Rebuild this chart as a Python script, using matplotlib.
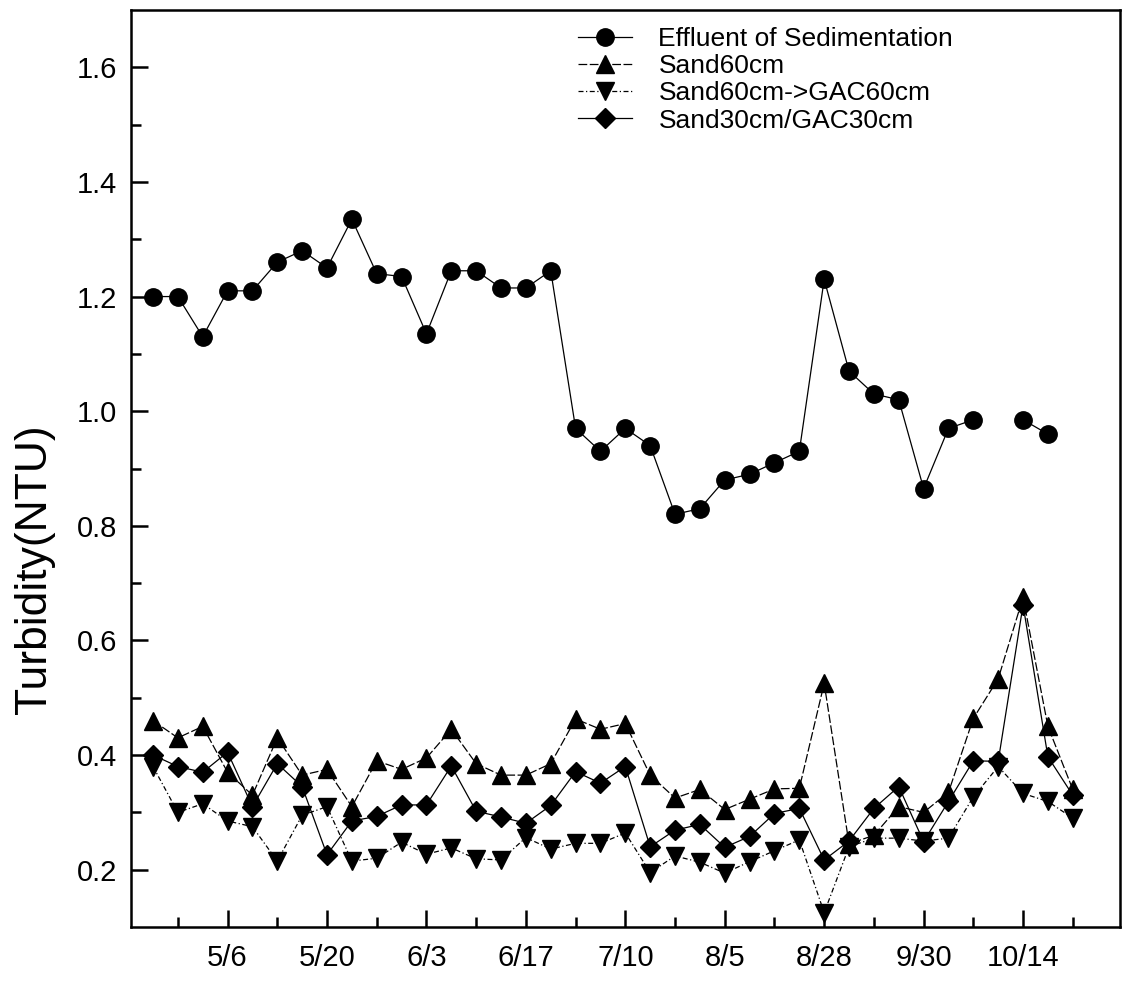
import matplotlib
matplotlib.use("Agg")
import matplotlib.pyplot as plt
import numpy as np

plt.rcParams['font.family'] = ['Liberation Sans', 'DejaVu Sans']

# sampling index (two samples per minor tick)
tick_labels = ['5/6', '5/20', '6/3', '6/17', '7/10', '8/5', '8/28', '9/30', '10/14']
major_pos = [3, 7, 11, 15, 19, 23, 27, 31, 35]
minor_pos = [1, 5, 9, 13, 17, 21, 25, 29, 33, 37]

effluent = [1.20, 1.20, 1.13, 1.21, 1.21, 1.26, 1.28, 1.25, 1.335, 1.24,
            1.235, 1.135, 1.245, 1.245, 1.215, 1.215, 1.245, 0.97, 0.93, 0.97,
            0.94, 0.82, 0.83, 0.88, 0.89, 0.91, 0.93, 1.23, 1.07, 1.03,
            1.02, 0.865, 0.97, 0.985, np.nan, 0.985, 0.96]
sand60 = [0.46, 0.43, 0.45, 0.37, 0.33, 0.43, 0.365, 0.375, 0.31, 0.39,
          0.375, 0.395, 0.445, 0.385, 0.365, 0.365, 0.385, 0.463, 0.445, 0.455,
          0.365, 0.325, 0.34, 0.305, 0.323, 0.341, 0.342, 0.525, 0.245, 0.26,
          0.31, 0.30, 0.335, 0.464, 0.533, 0.675, 0.45, 0.34]
sand_gac = [0.38, 0.30, 0.315, 0.285, 0.275, 0.215, 0.295, 0.31, 0.215, 0.22,
            0.248, 0.227, 0.238, 0.219, 0.217, 0.256, 0.236, 0.246, 0.246, 0.264,
            0.195, 0.224, 0.213, 0.194, 0.214, 0.233, 0.252, 0.125, 0.24, 0.255,
            0.255, 0.25, 0.255, 0.327, 0.38, 0.333, 0.319, 0.29]
mixed = [0.40, 0.38, 0.37, 0.405, 0.31, 0.385, 0.345, 0.226, 0.285, 0.293,
         0.313, 0.313, 0.381, 0.302, 0.292, 0.281, 0.312, 0.371, 0.351, 0.38,
         0.24, 0.269, 0.279, 0.239, 0.258, 0.298, 0.307, 0.217, 0.25, 0.307,
         0.345, 0.249, 0.319, 0.39, 0.389, 0.662, 0.397, 0.33]

fig = plt.figure(figsize=(11.27, 9.83), dpi=100)
ax = fig.add_axes([131/1127, 56/983, 989/1127, 917/983])

lw = 0.9
ax.plot(np.arange(len(effluent)), effluent, color='black', lw=lw, ls='-',
        marker='o', ms=12.5, label='Effluent of Sedimentation')
ax.plot(np.arange(len(sand60)), sand60, color='black', lw=lw, ls=(0, (7, 2)),
        marker='^', ms=13, label='Sand60cm')
ax.plot(np.arange(len(sand_gac)), sand_gac, color='black', lw=lw, ls=(0, (4, 2, 1, 2)),
        marker='v', ms=13, label='Sand60cm->GAC60cm')
ax.plot(np.arange(len(mixed)), mixed, color='black', lw=lw, ls='-',
        marker='D', ms=10.5, label='Sand30cm/GAC30cm')

ax.set_xlim(-0.885, 38.9)
ax.set_ylim(0.1, 1.7)
ax.set_xticks(major_pos)
ax.set_xticklabels(tick_labels)
ax.set_xticks(minor_pos, minor=True)
ax.set_yticks(np.arange(0.2, 1.61, 0.2))
ax.set_yticks(np.arange(0.3, 1.61, 0.2), minor=True)
ax.yaxis.set_major_formatter(matplotlib.ticker.FormatStrFormatter('%.1f'))

ax.tick_params(which='major', direction='in', length=12, width=1.8, labelsize=21)
ax.tick_params(axis='x', which='major', pad=12)
ax.tick_params(axis='y', which='major', pad=10)
ax.tick_params(which='minor', direction='in', length=7, width=1.8)
for s in ax.spines.values():
    s.set_linewidth(1.8)

ax.set_ylabel('Turbidity(NTU)', fontsize=32)
ax.yaxis.set_label_coords(-0.077, 0.39)

ax.legend(loc='upper left', bbox_to_anchor=(578/1127, 1 - 27/983),
          bbox_transform=fig.transFigure, frameon=False, fontsize=19,
          borderpad=0, borderaxespad=0, labelspacing=0.12,
          handlelength=2.05, handletextpad=1.0)

fig.savefig('out.png', dpi=100)
